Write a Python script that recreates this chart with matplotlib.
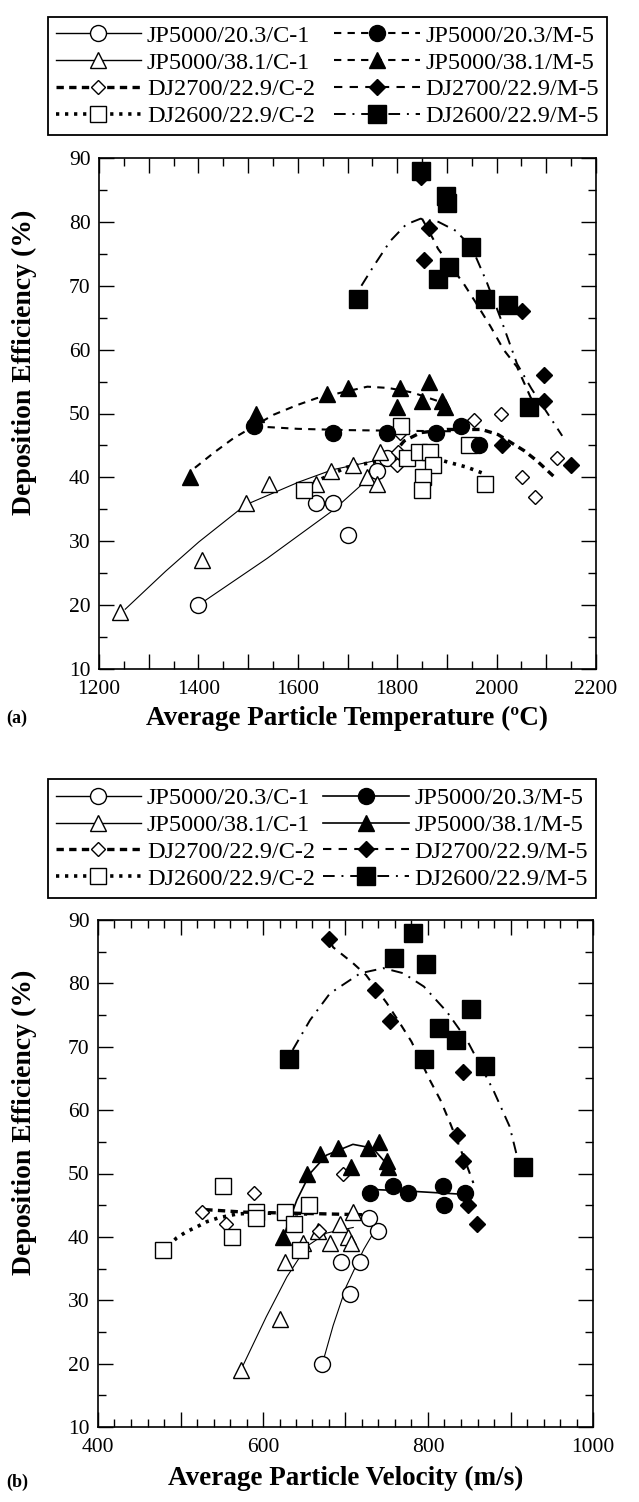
import matplotlib
matplotlib.use("Agg")
import matplotlib.pyplot as plt
from matplotlib.lines import Line2D
from matplotlib.ticker import MultipleLocator, FuncFormatter

plt.rcParams['font.family'] = ['Liberation Serif', 'DejaVu Serif']

# ---------------- Panel (a): temperature ----------------
a_c1_203_x = [1400, 1637, 1670, 1700, 1760, 1780]
a_c1_203_y = [20, 36, 36, 31, 41, 43]
a_c1_203_fx = [1400, 1538, 1672, 1759, 1790]
a_c1_203_fy = [20, 27.3, 34.9, 41.0, 43.3]

a_c1_381_x = [1242, 1407, 1495, 1543, 1636, 1667, 1712, 1739, 1759, 1765]
a_c1_381_y = [19, 27, 36, 39, 39, 41, 42, 40, 39, 44]
a_c1_381_fx = [1252, 1334, 1401, 1495, 1603, 1670, 1737, 1795]
a_c1_381_fy = [19.3, 25.3, 29.9, 35.7, 39.3, 41.2, 42.3, 43.3]

a_c2_2700_x = [1800, 1802, 1806, 1954, 2008, 2051, 2078, 2122]
a_c2_2700_y = [42, 44, 47, 49, 50, 40, 37, 43]
a_c2_2700_fx = [1790, 1814, 1847, 1900, 1970, 2003, 2055, 2081, 2117]
a_c2_2700_fy = [43.5, 45.7, 47, 47.5, 47.5, 46.7, 44.2, 42.6, 40]

a_c2_2600_x = [1613, 1808, 1820, 1843, 1867, 1873, 1852, 1850, 1944, 1977]
a_c2_2600_y = [38, 48, 43, 44, 44, 42, 40, 38, 45, 39]
a_c2_2600_fx = [1615, 1699, 1806, 1873, 1940, 1974]
a_c2_2600_fy = [38.6, 41.6, 43.2, 43, 41.6, 40.6]

a_m5_203_x = [1512, 1671, 1779, 1879, 1928, 1964]
a_m5_203_y = [48, 47, 47, 47, 48, 45]
a_m5_203_fx = [1512, 1600, 1700, 1800, 1930]
a_m5_203_fy = [48, 47.6, 47.4, 47.3, 47.2]

a_m5_381_x = [1383, 1515, 1658, 1701, 1805, 1863, 1800, 1850, 1890, 1897]
a_m5_381_y = [40, 50, 53, 54, 54, 55, 51, 52, 52, 51]
a_m5_381_fx = [1393, 1430, 1470, 1551, 1598, 1638, 1740, 1782, 1830, 1880]
a_m5_381_fy = [41.5, 43.8, 46.1, 49.8, 51.3, 52.4, 54.2, 54, 53.3, 52]

a_m5_2700_x = [1848, 1863, 1854, 2051, 2095, 2095, 2011, 2149]
a_m5_2700_y = [87, 79, 74, 66, 56, 52, 45, 42]
a_m5_2700_fx = [1850, 1876, 1882, 1934, 1957, 1988, 2014, 2041, 2068, 2078]
a_m5_2700_fy = [80.5, 76.8, 75.8, 70.3, 67.5, 63.6, 60, 57.3, 52.6, 51]

a_m5_2600_x = [1722, 1847, 1898, 1900, 1949, 1904, 1882, 1977, 2022, 2065]
a_m5_2600_y = [68, 88, 84, 83, 76, 73, 71, 68, 67, 51]
a_m5_2600_fx = [1728, 1752, 1786, 1818, 1847, 1883, 1918, 1950, 1980, 2009, 2041, 2070, 2132]
a_m5_2600_fy = [70, 73, 77, 79.6, 80.5, 80, 78.6, 76, 70.6, 64.7, 57.8, 53.9, 46.5]

# ---------------- Panel (b): velocity ----------------
b_c1_203_x = [672, 706, 695, 718, 740, 728]
b_c1_203_y = [20, 31, 36, 36, 41, 43]
b_c1_203_fx = [672, 685, 701, 722, 740]
b_c1_203_fy = [20, 26, 32.2, 38, 42]

b_c1_381_x = [573, 620, 627, 649, 667, 681, 693, 703, 709, 707]
b_c1_381_y = [19, 27, 36, 39, 41, 39, 42, 40, 44, 39]
b_c1_381_fx = [575, 604, 629, 653, 677, 710]
b_c1_381_fy = [19.5, 27.4, 33.7, 38.5, 40.6, 41.5]

b_c2_2700_x = [526, 589, 555, 697, 668]
b_c2_2700_y = [44, 47, 42, 50, 41]
b_c2_2700_fx = [530, 578, 650, 720]
b_c2_2700_fy = [44.3, 43.9, 43.7, 43.5]

b_c2_2600_x = [479, 551, 563, 592, 592, 627, 656, 637, 645]
b_c2_2600_y = [38, 48, 40, 44, 43, 44, 45, 42, 38]
b_c2_2600_fx = [485, 495, 507, 520, 532, 546, 568, 592, 616, 660]
b_c2_2600_fy = [38.5, 39.8, 40.8, 41.6, 42.4, 43, 43.6, 43.8, 43.7, 43.6]

b_m5_203_x = [730, 757, 776, 818, 820, 845]
b_m5_203_y = [47, 48, 47, 48, 45, 47]
b_m5_203_fx = [730, 780, 845]
b_m5_203_fy = [47.5, 47.2, 46.7]

b_m5_381_x = [624, 653, 669, 691, 707, 727, 741, 750, 752]
b_m5_381_y = [40, 50, 53, 54, 51, 54, 55, 52, 51]
b_m5_381_fx = [624, 629, 641, 657, 677, 709, 733, 748, 755]
b_m5_381_fy = [39.5, 41.6, 45.8, 50, 52.9, 54.6, 54, 51.8, 50.5]

b_m5_2700_x = [680, 736, 754, 843, 835, 842, 849, 859]
b_m5_2700_y = [87, 79, 74, 66, 56, 52, 45, 42]
b_m5_2700_fx = [682, 685, 709, 725, 750, 766, 780, 802, 815, 827, 845, 855]
b_m5_2700_fy = [86.5, 85.7, 83.2, 81.3, 76.9, 73.7, 70.8, 64.8, 61.6, 57.9, 52, 48.5]

b_m5_2600_x = [631, 782, 759, 798, 852, 813, 834, 795, 869, 915]
b_m5_2600_y = [68, 88, 84, 83, 76, 73, 71, 68, 67, 51]
b_m5_2600_fx = [636, 657, 681, 718, 746, 770, 795, 823, 847, 879, 899, 907, 913]
b_m5_2600_fy = [69.5, 74.2, 78.4, 81.6, 82.4, 81.6, 79.5, 75.5, 71.1, 63.2, 57.4, 53.2, 52]

labels = ["JP5000/20.3/C-1", "JP5000/38.1/C-1", "DJ2700/22.9/C-2", "DJ2600/22.9/C-2",
          "JP5000/20.3/M-5", "JP5000/38.1/M-5", "DJ2700/22.9/M-5", "DJ2600/22.9/M-5"]


def styles(panel):
    m5_jp_ls = (0, (3.5, 3.0)) if panel == 'a' else '-'
    m5_jp_lw = 1.5 if panel == 'a' else 1.2
    return [
        dict(marker='o', ms=11.5, fill=False, ls='-', lw=0.8),
        dict(marker='^', ms=11.5, fill=False, ls='-', lw=0.8),
        dict(marker='D', ms=7.5, fill=False, ls=(0, (2.2, 1.6)), lw=2.4),
        dict(marker='s', ms=11.5, fill=False, ls=(0, (0.9, 1.6)), lw=2.6),
        dict(marker='o', ms=11.5, fill=True, ls=m5_jp_ls, lw=m5_jp_lw),
        dict(marker='^', ms=11.5, fill=True, ls=m5_jp_ls, lw=m5_jp_lw),
        dict(marker='D', ms=8, fill=True, ls=(0, (4.0, 3.5)), lw=1.5),
        dict(marker='s', ms=13, fill=True, ls=(0, (6, 3.5, 1, 3.5)), lw=1.4),
    ]


fig = plt.figure(figsize=(6.39, 15.02), dpi=100)
W, H = 639.0, 1502.0


def px_axes(l, t, r, b):
    return [l / W, 1 - b / H, (r - l) / W, (b - t) / H]


def draw_panel(ax, data, sty):
    for (x, y, fx, fy), s in zip(data, sty):
        ax.plot(fx, fy, color='black', ls=s['ls'], lw=s['lw'], zorder=2,
                solid_capstyle='butt', dash_capstyle='butt')
        ax.plot(x, y, ls='none', marker=s['marker'], ms=s['ms'],
                mfc='black' if s['fill'] else 'white', mec='black', mew=1.0, zorder=3)


def legend_handles(sty):
    hs = []
    for s in sty:
        hs.append(Line2D([], [], color='black', ls=s['ls'], lw=s['lw'] if s['lw'] > 1 else 1.0,
                         marker=s['marker'], ms=s['ms'],
                         mfc='black' if s['fill'] else 'white', mec='black', mew=1.0))
    return hs


def style_axes(ax, xmin, xmax, xmaj, xmin_tick, xlab_step, ylab_x):
    ax.set_xlim(xmin, xmax)
    ax.set_ylim(10, 90)
    ax.xaxis.set_major_locator(MultipleLocator(xmaj))
    ax.xaxis.set_minor_locator(MultipleLocator(xmin_tick))
    ax.yaxis.set_major_locator(MultipleLocator(10))
    ax.yaxis.set_minor_locator(MultipleLocator(5))
    ax.xaxis.set_major_formatter(FuncFormatter(
        lambda v, p: "%d" % round(v) if abs(round(v) % xlab_step) < 1e-6 else ""))
    ax.tick_params(which='both', direction='in', top=True, right=True,
                   labelsize=15.5, width=1.0)
    ax.tick_params(which='major', length=11)
    ax.tick_params(which='minor', length=5.5)
    ax.tick_params(axis='x', pad=8)
    ax.tick_params(axis='y', pad=6)
    for sp in ax.spines.values():
        sp.set_linewidth(1.2)
    ax.set_ylabel("Deposition Efficiency (%)", fontsize=20, fontweight='bold')
    ax.yaxis.set_label_coords(ylab_x, 0.6)


def add_legend(rect, sty):
    lax = fig.add_axes(rect)
    lax.axis('off')
    leg = lax.legend(legend_handles(sty), labels, ncol=2, loc='center', mode='expand',
                     bbox_to_anchor=(0, 0, 1, 1), borderaxespad=0, fontsize=17.5,
                     handlelength=3.5, handletextpad=0.25, columnspacing=0.6,
                     labelspacing=0.2, borderpad=0.32, fancybox=False, framealpha=1,
                     edgecolor='black')
    leg.get_frame().set_linewidth(1.3)


# ---- panel (a)
ax_a = fig.add_axes(px_axes(99, 158, 596, 669))
data_a = [
    (a_c1_203_x, a_c1_203_y, a_c1_203_fx, a_c1_203_fy),
    (a_c1_381_x, a_c1_381_y, a_c1_381_fx, a_c1_381_fy),
    (a_c2_2700_x, a_c2_2700_y, a_c2_2700_fx, a_c2_2700_fy),
    (a_c2_2600_x, a_c2_2600_y, a_c2_2600_fx, a_c2_2600_fy),
    (a_m5_203_x, a_m5_203_y, a_m5_203_fx, a_m5_203_fy),
    (a_m5_381_x, a_m5_381_y, a_m5_381_fx, a_m5_381_fy),
    (a_m5_2700_x, a_m5_2700_y, a_m5_2700_fx, a_m5_2700_fy),
    (a_m5_2600_x, a_m5_2600_y, a_m5_2600_fx, a_m5_2600_fy),
]
sty_a = styles('a')
draw_panel(ax_a, data_a, sty_a)
style_axes(ax_a, 1200, 2200, 100, 50, 200, (37 - 99) / 497.0)
ax_a.set_xlabel("Average Particle Temperature (\u00baC)", fontsize=19.5, fontweight='bold', labelpad=5)
fig.text(6 / W, 1 - 718 / H, "(a)", fontsize=13, fontweight='bold', va='center', ha='left')
add_legend(px_axes(48, 14, 607, 138), sty_a)

# ---- panel (b)
ax_b = fig.add_axes(px_axes(98, 920, 593, 1427))
data_b = [
    (b_c1_203_x, b_c1_203_y, b_c1_203_fx, b_c1_203_fy),
    (b_c1_381_x, b_c1_381_y, b_c1_381_fx, b_c1_381_fy),
    (b_c2_2700_x, b_c2_2700_y, b_c2_2700_fx, b_c2_2700_fy),
    (b_c2_2600_x, b_c2_2600_y, b_c2_2600_fx, b_c2_2600_fy),
    (b_m5_203_x, b_m5_203_y, b_m5_203_fx, b_m5_203_fy),
    (b_m5_381_x, b_m5_381_y, b_m5_381_fx, b_m5_381_fy),
    (b_m5_2700_x, b_m5_2700_y, b_m5_2700_fx, b_m5_2700_fy),
    (b_m5_2600_x, b_m5_2600_y, b_m5_2600_fx, b_m5_2600_fy),
]
sty_b = styles('b')
draw_panel(ax_b, data_b, sty_b)
style_axes(ax_b, 400, 1000, 100, 20, 200, (37 - 98) / 495.0)
ax_b.set_xlabel("Average Particle Velocity (m/s)", fontsize=19.5, fontweight='bold', labelpad=6)
fig.text(6 / W, 1 - 1482 / H, "(b)", fontsize=13, fontweight='bold', va='center', ha='left')
add_legend(px_axes(48, 777, 596, 900), sty_b)

fig.savefig("out.png", dpi=100, facecolor='white')
